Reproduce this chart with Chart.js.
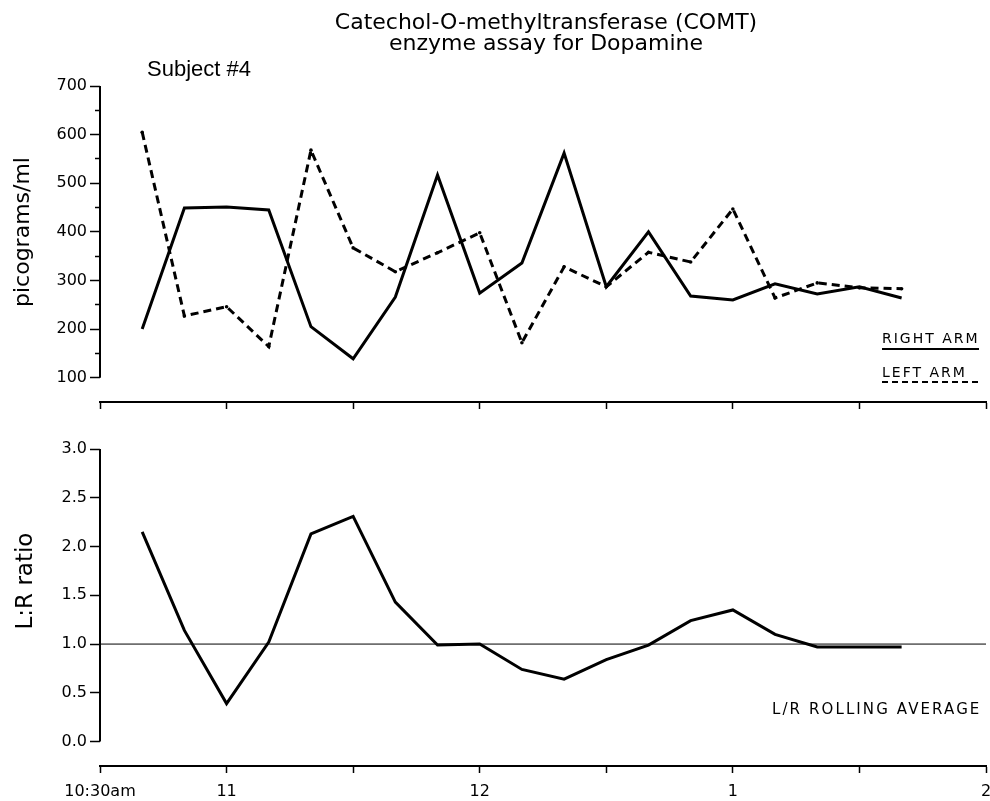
<!DOCTYPE html>
<html>
<head>
<meta charset="utf-8">
<title>COMT enzyme assay for Dopamine</title>
<script src="https://cdn.jsdelivr.net/npm/chart.js@4.4.1/dist/chart.umd.min.js"></script>
<style>
  body { margin: 0; background: #fff; }
  #wrap { position: relative; width: 990px; height: 801px; overflow: hidden; color: #000; }
  canvas { position: absolute; left: 0; }
  .txt { position: absolute; white-space: nowrap; }
  #title { left: 246px; top: 11px; width: 600px; text-align: center; font: 22px/21px 'DejaVu Sans', sans-serif; }
  #subject { left: 147px; top: 58px; font: 22px/22px 'Liberation Sans', Arial, sans-serif; }
  .ytitle { font: 22px 'DejaVu Sans', sans-serif; transform: translate(-50%, -50%) rotate(-90deg); }
  .legend { font: 14px/14px 'DejaVu Sans', sans-serif; letter-spacing: 2px; }
  .solid { position: absolute; height: 2px; background: #000; }
  .dashed { position: absolute; height: 2px; background: repeating-linear-gradient(to right, #000 0 6px, transparent 6px 10px); }
  #rolling { left: 772px; top: 701px; font: 15px/16px 'DejaVu Sans', sans-serif; letter-spacing: 2.1px; }
</style>
</head>
<body>
<div id="wrap">
  <canvas id="topChart" width="990" height="420" style="top:0"></canvas>
  <canvas id="bottomChart" width="990" height="381" style="top:420px"></canvas>

  <div id="title" class="txt">Catechol-O-methyltransferase (COMT)<br>enzyme assay for Dopamine</div>
  <div id="subject" class="txt">Subject #4</div>
  <div class="txt ytitle" style="left:21px; top:232px">picograms/ml</div>
  <div class="txt ytitle" style="left:24px; top:581px; font-size:23px">L:R ratio</div>

  <div class="txt legend" style="left:882px; top:331px">RIGHT ARM</div>
  <div class="solid" style="left:882px; top:348px; width:97px"></div>
  <div class="txt legend" style="left:882px; top:365px">LEFT ARM</div>
  <div class="dashed" style="left:882px; top:381px; width:100px"></div>

  <div id="rolling" class="txt">L/R ROLLING AVERAGE</div>
</div>

<script>
// sample times (every 10 minutes)
const sampleTimes = ['10:40', '10:50', '11:00', '11:10', '11:20', '11:30', '11:40', '11:50',
  '12:00', '12:10', '12:20', '12:30', '12:40', '12:50', '1:00', '1:10', '1:20', '1:30', '1:40'];

// picograms/ml
const rightArm = [200, 449, 451, 445, 205, 139, 266, 517, 274, 336, 562, 287, 400, 268, 260, 293, 272, 287, 264];
const leftArm = [605, 227, 246, 164, 568, 367, 318, 357, 398, 172, 328, 287, 358, 338, 447, 264, 295, 285, 283];

// L/R rolling average
const lrRatio = [2.15, 1.14, 0.39, 1.02, 2.13, 2.31, 1.43, 0.99, 1.0, 0.74, 0.64, 0.84, 0.99, 1.24, 1.35, 1.10, 0.97, 0.97, 0.97];
const refValue = 1.0;

// axes
const xTickLabels = ['10:30am', '11', '', '12', '', '1', '', '2'];
const picoTicks = [100, 150, 200, 250, 300, 350, 400, 450, 500, 550, 600, 650, 700];
const ratioTicks = [0, 0.5, 1.0, 1.5, 2.0, 2.5, 3.0];

// minutes after 10:30
function toMinutes(t) {
    let [h, m] = t.split(':').map(Number);
    if (h < 10) h += 12;
    return (h - 10) * 60 + m - 30;
}
const xs = sampleTimes.map(toMinutes);
const pts = vals => vals.map((v, i) => ({ x: xs[i], y: v }));

Chart.defaults.font.family = "'DejaVu Sans', sans-serif";
Chart.defaults.color = '#000';

// y axis line only between the first and last tick
const yAxisLine = {
    id: 'yAxisLine',
    afterDraw(chart) {
        const y = chart.scales.y;
        const ctx = chart.ctx;
        const left = chart.chartArea.left;
        ctx.save();
        ctx.strokeStyle = '#000';
        ctx.lineWidth = 2;
        ctx.beginPath();
        ctx.moveTo(left, y.getPixelForValue(y.ticks[y.ticks.length - 1].value));
        ctx.lineTo(left, y.getPixelForValue(y.ticks[0].value));
        ctx.stroke();
        ctx.restore();
    }
};

function xScale(showLabels, height) {
    return {
        type: 'linear',
        min: 0,
        max: 210,
        afterBuildTicks: s => { s.ticks = xTickLabels.map((l, i) => ({ value: i * 30 })); },
        afterFit: s => { s.height = height; s.paddingLeft = 0; s.paddingRight = 0; },
        border: { display: true, color: '#000', width: 2 },
        grid: { drawOnChartArea: false, drawTicks: true, tickLength: 7, color: '#000', tickWidth: 1.5 },
        ticks: {
            padding: 9,
            maxRotation: 0,
            autoSkip: false,
            font: { size: 16 },
            callback: (v, i) => showLabels ? xTickLabels[i] : ''
        }
    };
}

function yScale(min, max, tickVals, isMinor, fmt) {
    return {
        min: min,
        max: max,
        afterBuildTicks: s => { s.ticks = tickVals.map(v => ({ value: v })); },
        afterFit: s => { s.width = 100; },
        border: { display: false },
        grid: {
            drawOnChartArea: false,
            drawTicks: true,
            tickLength: 10,
            color: '#000',
            tickWidth: 1.5,
            tickBorderDash: c => (c.tick && isMinor(c.tick.value)) ? [0, 5, 5, 20] : []
        },
        ticks: {
            padding: 3,
            font: { size: 16 },
            callback: v => isMinor(v) ? '' : fmt(v)
        }
    };
}

new Chart(document.getElementById('topChart'), {
    type: 'line',
    data: {
        datasets: [
            {
                label: 'RIGHT ARM',
                data: pts(rightArm),
                borderColor: '#000',
                borderWidth: 3,
                borderJoinStyle: 'miter',
                pointRadius: 0,
                tension: 0
            },
            {
                label: 'LEFT ARM',
                data: pts(leftArm),
                borderColor: '#000',
                borderWidth: 3,
                borderDash: [8, 5],
                borderJoinStyle: 'miter',
                pointRadius: 1.8,
                pointBorderWidth: 0,
                pointBackgroundColor: '#000',
                tension: 0
            }
        ]
    },
    options: {
        responsive: false,
        animation: false,
        devicePixelRatio: 1,
        layout: { padding: { top: 86, right: 4, left: 0, bottom: 0 } },
        plugins: { legend: { display: false }, tooltip: { enabled: false } },
        scales: {
            x: xScale(false, 18),
            y: yScale(50, 700, picoTicks, v => v % 100 !== 0, v => String(v))
        }
    },
    plugins: [yAxisLine]
});

new Chart(document.getElementById('bottomChart'), {
    type: 'line',
    data: {
        datasets: [
            {
                label: 'L/R ROLLING AVERAGE',
                data: pts(lrRatio),
                borderColor: '#000',
                borderWidth: 3,
                borderJoinStyle: 'miter',
                pointRadius: 0,
                tension: 0
            },
            {
                label: 'reference',
                data: [{ x: 0, y: refValue }, { x: 210, y: refValue }],
                borderColor: '#000',
                borderWidth: 1,
                pointRadius: 0
            }
        ]
    },
    options: {
        responsive: false,
        animation: false,
        devicePixelRatio: 1,
        layout: { padding: { top: 29, right: 4, left: 0, bottom: 0 } },
        plugins: { legend: { display: false }, tooltip: { enabled: false } },
        scales: {
            x: xScale(true, 35),
            y: yScale(-0.25, 3.0, ratioTicks, v => false, v => v.toFixed(1))
        }
    },
    plugins: [yAxisLine]
});
</script>
</body>
</html>
